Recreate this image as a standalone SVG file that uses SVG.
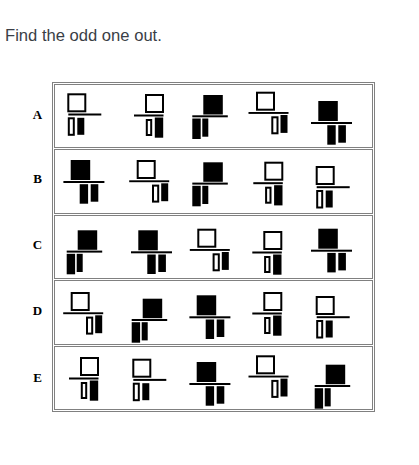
<svg xmlns="http://www.w3.org/2000/svg" xmlns:xlink="http://www.w3.org/1999/xlink" width="419" height="465" viewBox="0 0 419 465">
<style>
.o{fill:#fff;stroke:#000;stroke-width:2}
.f{fill:#000}
.frame{fill:none;stroke:#808080;stroke-width:1}
.lbl{font-family:"Liberation Serif","Times New Roman",serif;font-weight:bold;font-size:13px;fill:#000;text-anchor:middle}
.title{font-family:"Liberation Sans",Arial,sans-serif;font-size:16.6px;fill:#3a3e46}
</style>
<defs>
<g id="typeP">
<rect class="o" x="1" y="1" width="17" height="17"/>
<rect class="f" x="1" y="20.2" width="33" height="2"/>
<rect class="o" x="1.5" y="25" width="5" height="16.5"/>
<rect class="f" x="10" y="24.5" width="7" height="17"/>
</g>
<g id="typeQ">
<rect class="o" x="1" y="1" width="17" height="17"/>
<rect class="f" x="-11" y="20.5" width="29.5" height="2"/>
<rect class="o" x="1.8" y="26" width="4.4" height="15"/>
<rect class="f" x="9.8" y="23.5" width="8.4" height="20.2"/>
</g>
<g id="typeR">
<rect class="f" x="0" y="0" width="19.5" height="19.5"/>
<rect class="f" x="-11" y="20.3" width="35.5" height="2"/>
<rect class="f" x="-11" y="23.5" width="8.4" height="20.5"/>
<rect class="f" x="-1" y="23.5" width="6" height="18.2"/>
</g>
<g id="typeS">
<rect class="f" x="0" y="0" width="19.5" height="20"/>
<rect class="f" x="-7.3" y="21" width="41" height="2"/>
<rect class="f" x="9" y="24.2" width="8.4" height="19.5"/>
<rect class="f" x="20" y="24.2" width="7.6" height="17.5"/>
</g>
<g id="typeT">
<rect class="o" x="1" y="1" width="17" height="17"/>
<rect class="f" x="-7.5" y="20.3" width="40" height="1.9"/>
<rect class="o" x="16.3" y="25.6" width="5.2" height="16"/>
<rect class="f" x="24.5" y="23.3" width="7" height="17.9"/>
</g>
</defs>
<rect width="419" height="465" fill="#fff"/>
<text class="title" x="5" y="41">Find the odd one out.</text>
<g id="table">
<rect class="frame" x="52.5" y="82.5" width="322" height="329"/>
<rect class="frame" x="54.5" y="84.5" width="318" height="63"/>
<rect class="frame" x="54.5" y="149.5" width="318" height="64"/>
<rect class="frame" x="54.5" y="215.5" width="318" height="63"/>
<rect class="frame" x="54.5" y="280.5" width="318" height="64"/>
<rect class="frame" x="54.5" y="346.5" width="318" height="63"/>
</g>
<g id="labels">
<text class="lbl" x="37.5" y="118.5">A</text>
<text class="lbl" x="37.5" y="182.5">B</text>
<text class="lbl" x="37.5" y="249">C</text>
<text class="lbl" x="37.5" y="315">D</text>
<text class="lbl" x="37.5" y="381.5">E</text>
</g>
<g id="rowA">
<g id="A1"><use xlink:href="#typeP" transform="translate(67.3,93.3)"/></g>
<g id="A2"><use xlink:href="#typeQ" transform="translate(145,94)"/></g>
<g id="A3"><use xlink:href="#typeR" transform="translate(203.3,95)"/></g>
<g id="A4"><use xlink:href="#typeT" transform="translate(256,91.7)"/></g>
<g id="A5"><use xlink:href="#typeS" transform="translate(318.3,101)"/></g>
</g>
<g id="rowB">
<g id="B1"><use xlink:href="#typeS" transform="translate(70.7,160)"/></g>
<g id="B2"><use xlink:href="#typeT" transform="translate(136.7,160)"/></g>
<g id="B3"><use xlink:href="#typeR" transform="translate(203.3,162.3)"/></g>
<g id="B4"><use xlink:href="#typeQ" transform="translate(264.3,161.7)"/></g>
<g id="B5"><use xlink:href="#typeP" transform="translate(315.7,166)"/></g>
</g>
<g id="rowC">
<g id="C1"><use xlink:href="#typeR" transform="translate(77.7,230.3)"/></g>
<g id="C2"><use xlink:href="#typeS" transform="translate(138.3,230.3)"/></g>
<g id="C3"><use xlink:href="#typeT" transform="translate(197.3,228.7)"/></g>
<g id="C4"><use xlink:href="#typeQ" transform="translate(263.3,231)"/></g>
<g id="C5"><use xlink:href="#typeS" transform="translate(318.3,228.7)"/></g>
</g>
<g id="rowD">
<g id="D1"><use xlink:href="#typeT" transform="translate(70.7,292)"/></g>
<g id="D2"><use xlink:href="#typeR" transform="translate(142.7,298.7)"/></g>
<g id="D3"><use xlink:href="#typeS" transform="translate(196.7,295.3)"/></g>
<g id="D4"><use xlink:href="#typeQ" transform="translate(263.3,292)"/></g>
<g id="D5"><use xlink:href="#typeP" transform="translate(315.7,296)"/></g>
</g>
<g id="rowE">
<g id="E1"><use xlink:href="#typeQ" transform="translate(80,357)"/></g>
<g id="E2"><use xlink:href="#typeP" transform="translate(132.3,358.7)"/></g>
<g id="E3"><use xlink:href="#typeS" transform="translate(196.7,362)"/></g>
<g id="E4"><use xlink:href="#typeT" transform="translate(256,355.3)"/></g>
<g id="E5"><use xlink:href="#typeR" transform="translate(325.7,364.7)"/></g>
</g>
<g id="connectors"/>
</svg>
